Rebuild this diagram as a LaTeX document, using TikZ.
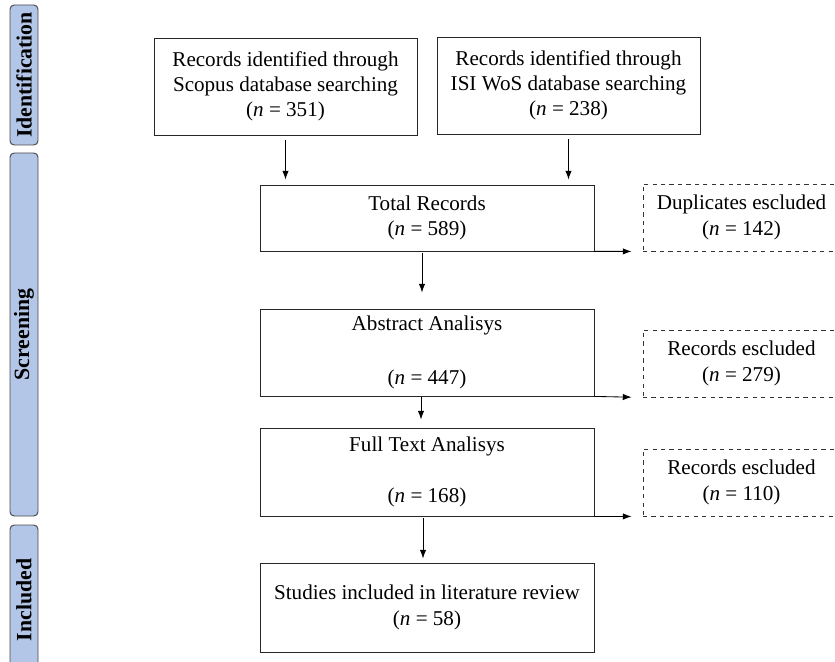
\documentclass[tikz,border=0pt]{standalone}
\usepackage{fontspec}
\setmainfont{Liberation Serif}
\usepackage{xcolor}
\usepackage{tikz}
\usetikzlibrary{arrows.meta}
\definecolor{phasefill}{HTML}{B4C6E7}
\definecolor{phaseline}{HTML}{4A4A4A}
\newcommand{\pxu}{0.025cm}
\newcommand{\nval}[1]{(\textit{n} = #1)}

\begin{document}
\begin{tikzpicture}[x=0.025cm, y=-0.025cm,
		every node/.style={font=\fontsize{15}{18}\selectfont},
		flowbox/.style={draw=black!85, line width=0.6pt, align=center, inner sep=2pt},
		exclbox/.style={draw=black!80, dashed, line width=0.6pt, align=center,
			minimum width=197*\pxu, minimum height=67*\pxu},
		phasebar/.style={draw=phaseline, fill=phasefill, line width=0.7pt, rounded corners=3pt,
			rotate=90, minimum height=28*\pxu, inner sep=0pt, font=\fontsize{15.5}{18}\selectfont\bfseries},
		flowarrow/.style={-{Latex[length=2.2mm, width=1.6mm]}, line width=0.6pt}]
		\useasboundingbox (0,0) rectangle (835,662);

		%% phases
		\node[phasebar, minimum width=140*\pxu] (ident) at (24,75) {Identification};
		\node[phasebar, minimum width=363*\pxu] (screen) at (24,334.5) {Screening};
		\node[phasebar, minimum width=150*\pxu] (incl) at (24,600) {Included};

		%% identification
		\node[flowbox, minimum width=263*\pxu, minimum height=97*\pxu] (scopus) at (285.5,86.5)
			{Records identified through\\Scopus database searching\\\nval{351}};
		\node[flowbox, minimum width=263*\pxu, minimum height=97*\pxu] (wos) at (568.5,85.5)
			{Records identified through\\ISI WoS database searching\\\nval{238}};

		%% screening
		\node[flowbox, minimum width=334*\pxu, minimum height=66*\pxu] (total) at (427,218)
			{Total Records\\\nval{589}};
		\node[exclbox] (dupl) at (741.5,217.5) {Duplicates escluded\\\nval{142}};

		\node[flowbox, minimum width=334*\pxu, minimum height=87*\pxu] (abstr) at (427,352.5)
			{Abstract Analisys\\[20pt]\nval{447}};
		\node[exclbox] (exclabs) at (741.5,363.5) {Records escluded\\\nval{279}};

		\node[flowbox, minimum width=334*\pxu, minimum height=88*\pxu] (fulltext) at (427,472)
			{Full Text Analisys\\[18pt]\nval{168}};
		\node[exclbox] (exclfull) at (741.5,482.5) {Records escluded\\\nval{110}};

		%% included
		\node[flowbox, minimum width=334*\pxu, minimum height=89*\pxu] (studies) at (427,607.5)
			{Studies included in literature review\\\nval{58}};

		% arrows down
		\draw[flowarrow, shorten <=5*\pxu, shorten >=5*\pxu] (scopus.south) -- (scopus.south |- total.north);
		\draw[flowarrow, shorten <=5*\pxu, shorten >=5*\pxu] (wos.south) -- (wos.south |- total.north);
		\draw[flowarrow, shorten <=2*\pxu, shorten >=16*\pxu] ([xshift=-5*\pxu]total.south)
			-- ([xshift=-5*\pxu]total.south |- abstr.north);
		\draw[flowarrow, shorten <=1*\pxu, shorten >=8*\pxu] ([xshift=-6*\pxu]abstr.south)
			-- ([xshift=-6*\pxu]abstr.south |- fulltext.north);
		\draw[flowarrow, shorten <=2*\pxu, shorten >=4*\pxu] ([xshift=-4*\pxu]fulltext.south)
			-- ([xshift=-4*\pxu]fulltext.south |- studies.north);

		% arrows to exclusions
		\draw[flowarrow, shorten >=11*\pxu] (total.south east) -- (dupl.south west);
		\draw[flowarrow, shorten >=11*\pxu] (abstr.south east) -- (exclabs.south west);
		\draw[flowarrow, shorten >=11*\pxu] (fulltext.south east) -- (exclfull.south west);
\end{tikzpicture}
\end{document}
